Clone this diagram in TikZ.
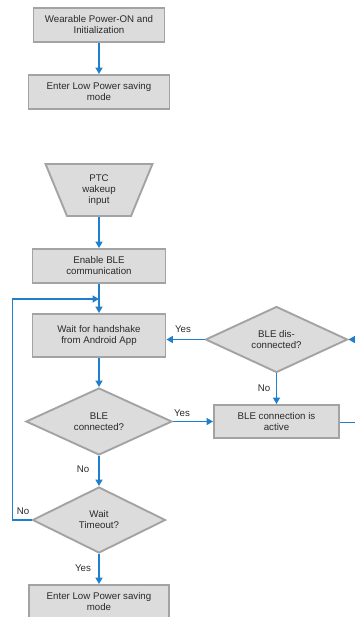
\documentclass[tikz,border=0pt]{standalone}
\usepackage{fontspec}
\setmainfont{Liberation Sans}
\usetikzlibrary{shapes.geometric,arrows.meta}
\definecolor{boxfill}{HTML}{DCDCDC}
\definecolor{boxline}{HTML}{A3A3A3}
\definecolor{flow}{HTML}{1F7FCC}
\definecolor{txt}{HTML}{2A2A2A}
\begin{document}
\begin{tikzpicture}[x=1pt,y=-1pt,
  every node/.style={font=\fontsize{9.7}{11}\selectfont, text=txt},
  procbox/.style={rectangle, draw=boxline, fill=boxfill, line width=1.9pt, align=center, inner sep=0pt},
  decbox/.style={diamond, draw=boxline, fill=boxfill, line width=1.9pt, align=center, inner sep=0pt, aspect=2},
  inbox/.style={trapezium, draw=boxline, fill=boxfill, line width=1.9pt, align=center, inner sep=0pt,
     shape border rotate=180, trapezium left angle=70, trapezium right angle=70, trapezium stretches=true},
  flowline/.style={draw=flow, line width=1.6pt},
  flowarrow/.style={flowline, -{Triangle[width=7pt,length=6.5pt]}},
  lbl/.style={inner sep=0pt}]
\useasboundingbox (0,0) rectangle (355,617);
\node[procbox, minimum width=131pt, minimum height=34pt] (pon) at (99,25) {Wearable Power-ON and\\Initialization};
\node[procbox, minimum width=141pt, minimum height=34pt] (low1) at (99,92) {Enter Low Power saving\\mode};
\node[inbox, minimum width=107pt, minimum height=52pt] (ptc) at (99,190) {PTC\\wakeup\\input};
\node[procbox, minimum width=133pt, minimum height=34pt] (ble) at (99,266) {Enable BLE\\communication};
\node[procbox, minimum width=133pt, minimum height=43pt] (wait) at (99,335.5) {Wait for handshake\\from Android App};
\node[decbox, minimum width=146pt, minimum height=67pt] (conn) at (99,421.5) {BLE\\connected?};
\node[decbox, minimum width=133pt, minimum height=66pt] (tout) at (99,520) {Wait\\Timeout?};
\node[procbox, minimum width=140pt, minimum height=34pt] (low2) at (99,602) {Enter Low Power saving\\mode};
\node[decbox, minimum width=142pt, minimum height=66pt] (dis) at (276.5,339.5) {BLE dis-\\connected?};
\node[procbox, minimum width=125pt, minimum height=33pt] (act) at (276.5,421.5) {BLE connection is\\active};
\coordinate (join) at (99,299);
\coordinate (loopL) at (12.5,520);
\coordinate (rtop) at (356,339.5);
\coordinate (rbot) at (356,422.5);

\draw[flowarrow] (pon.south) -- (low1.north);
\draw[flowarrow] (ptc.bottom side |- ptc.south) -- (ble.north);
\draw[flowline] (ble.south) -- (join);
\draw[flowarrow] (join) -- (wait.north);
\draw[flowarrow] (tout.west) -- (loopL) |- (join);
\draw[flowarrow] (wait.south) -- (conn.north);
\draw[flowarrow] (conn.east) -- (act.west);
\draw[flowarrow] (conn.south) -- (tout.north);
\draw[flowarrow] (tout.south) -- (low2.north);
\draw[flowarrow] (dis.west) -- (wait.east |- dis.west);
\draw[flowarrow] (dis.south) -- (act.north);
\draw[flowline] (act.east |- rbot) -- (rbot);
\draw[flowarrow] (rtop) -- (dis.east);

\node[lbl] (ly1) at (183,329) {Yes};
\node[lbl] (ln1) at (264,388) {No};
\node[lbl] (ly2) at (182,413) {Yes};
\node[lbl] (ln2) at (83,469) {No};
\node[lbl] (ln3) at (23,511) {No};
\node[lbl] (ly3) at (83,568) {Yes};
\end{tikzpicture}
\end{document}
